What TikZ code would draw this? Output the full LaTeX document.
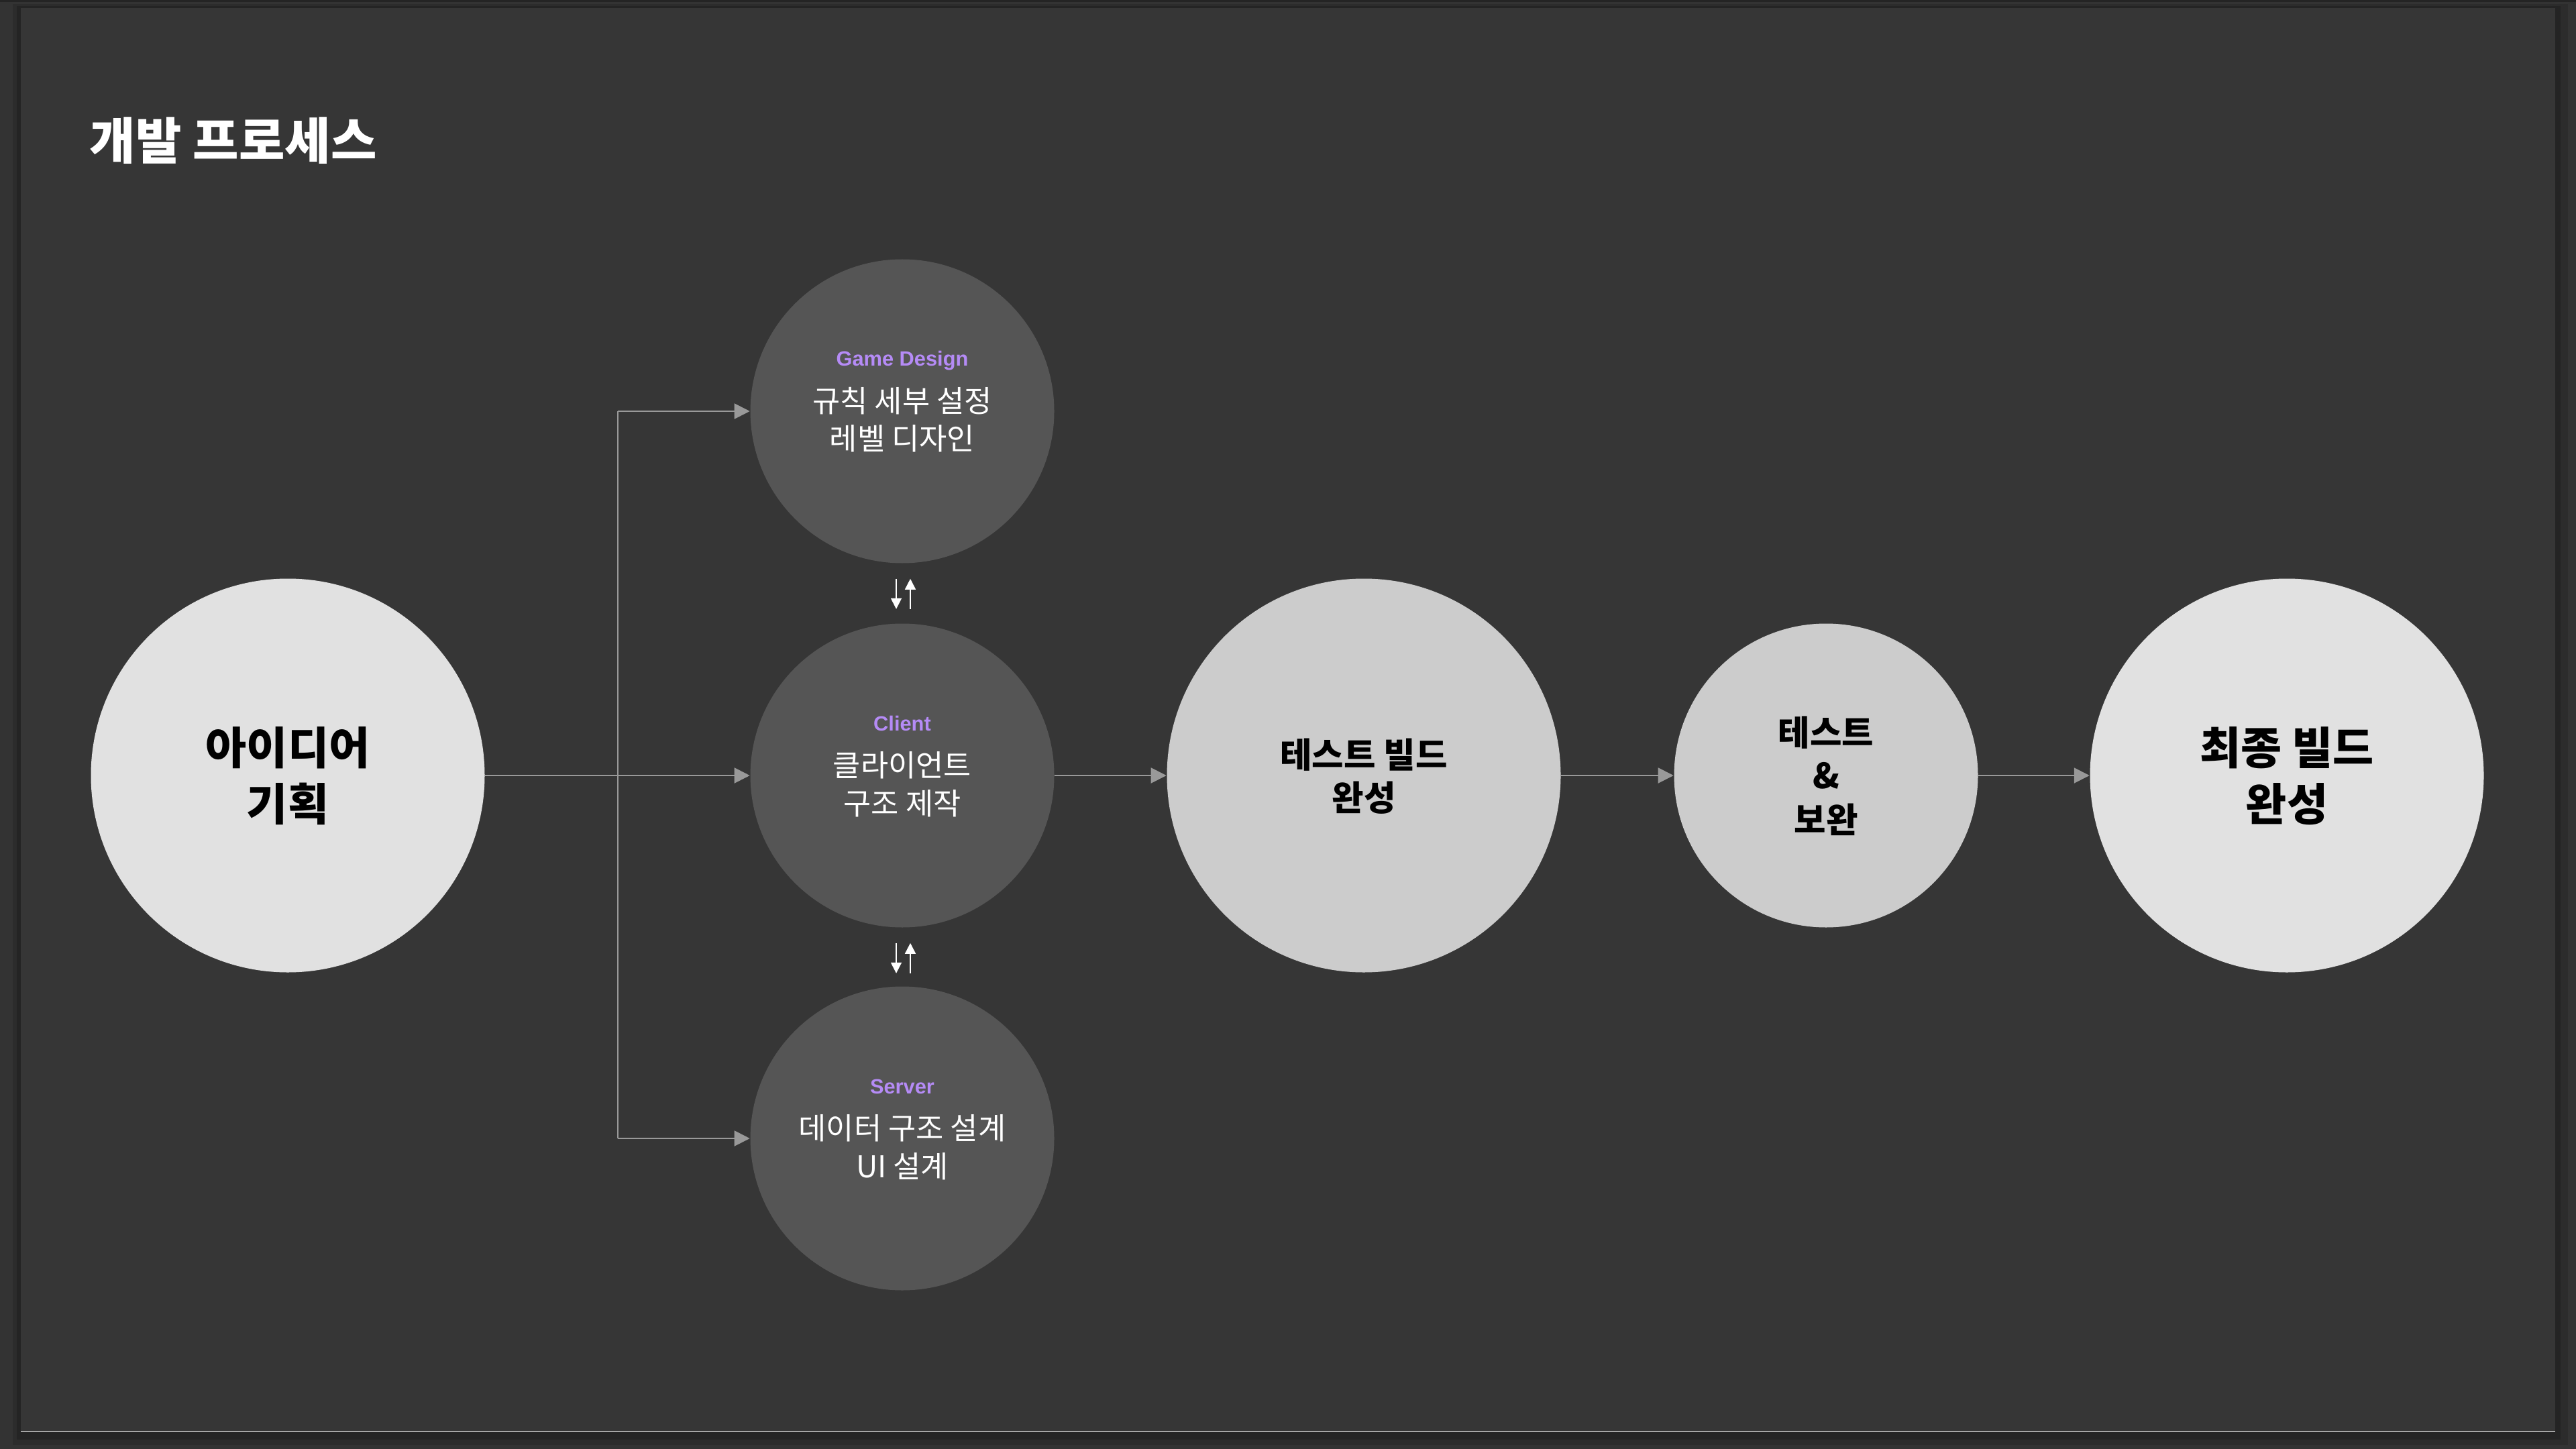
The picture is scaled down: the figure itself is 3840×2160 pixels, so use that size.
\documentclass[tikz,border=0pt]{standalone}
\usepackage{fontspec}
\usetikzlibrary{arrows.meta,calc}
\newfontfamily\kr{Noto Sans CJK KR}
\newfontfamily\lat{Liberation Sans}
\definecolor{outerbg}{HTML}{333333}
\definecolor{panelbg}{HTML}{363636}
\definecolor{shadowA}{HTML}{2C2C2C}
\definecolor{shadowB}{HTML}{242424}
\definecolor{lightA}{HTML}{E1E1E1}
\definecolor{lightB}{HTML}{CCCCCC}
\definecolor{darkc}{HTML}{555555}
\definecolor{conncol}{HTML}{999999}
\definecolor{purp}{RGB}{181,139,246}
\tikzset{
  bigc/.style={circle, inner sep=0pt, minimum size=146.75pt, draw=none},
  smc/.style={circle, inner sep=0pt, minimum size=113.25pt, draw=none},
  txt/.style={anchor=base, inner sep=0pt},
  smtxt/.style={txt, text=white, font=\kr\fontsize{11.2pt}{14pt}\selectfont},
  tagtxt/.style={txt, text=purp, font=\lat\bfseries\fontsize{7.7pt}{9pt}\selectfont},
  bigtxt/.style={txt, text=black, font=\kr\bfseries\fontsize{16.6pt}{21pt}\selectfont},
  midtxt/.style={txt, text=black, font=\kr\bfseries\fontsize{12.9pt}{16pt}\selectfont},
  conn/.style={draw=conncol, line width=0.5pt, -{Triangle[length=5.75pt,width=5.75pt]}},
  connline/.style={draw=conncol, line width=0.5pt},
  warrow/.style={draw=white, line width=0.42pt, -{Triangle[length=4pt,width=4pt]}}
}
\begin{document}
\begin{tikzpicture}[x=0.25pt,y=-0.25pt]
\useasboundingbox (0,0) rectangle (3840,2160);
% background and slide panel
\fill[outerbg] (0,0) rectangle (3840,2160);
\fill[black!30!outerbg] (0,0) rectangle (3840,3);
\fill[shadowA] (19,6) rectangle (3828,2154);
\fill[shadowB] (25,9) rectangle (3817,2146);
\fill[panelbg] (31,12) rectangle (3809,2133);
\draw[white, line width=0.4pt] (31,2133.5) -- (3809,2133.5);
% title
\node[txt, anchor=base west, text=white, font=\kr\bfseries\fontsize{18.6pt}{20pt}\selectfont] (title) at (133,238) {개발 프로세스};
% circles
\node[bigc, fill=lightA] (idea) at (429,1156) {};
\node[smc, fill=darkc] (gd) at (1345,613) {};
\node[smc, fill=darkc] (cl) at (1345,1156) {};
\node[smc, fill=darkc] (sv) at (1345,1697) {};
\node[bigc, fill=lightB] (tb) at (2033,1156) {};
\node[smc, fill=lightB] (tf) at (2722,1156) {};
\node[bigc, fill=lightA] (fb) at (3409,1156) {};
% connectors
\coordinate (jn) at (921,1156);
\coordinate (jt) at (921,613);
\coordinate (jb) at (921,1697);
\draw[conn] (idea) -- (cl);
\draw[connline] (jt) -- (jb);
\draw[conn] (jt) -- (gd);
\draw[conn] (jb) -- (sv);
\draw[conn] (cl) -- (tb);
\draw[conn] (tb) -- (tf);
\draw[conn] (tf) -- (fb);
% white two-way arrows
\coordinate (a1d) at ($(gd.south)+(-9,22.5)$);
\coordinate (a1e) at ($(gd.south)+(-9,67.5)$);
\coordinate (a1u) at ($(gd.south)+(12,67.5)$);
\coordinate (a1f) at ($(gd.south)+(12,22.5)$);
\draw[warrow] (a1d) -- (a1e);
\draw[warrow] (a1u) -- (a1f);
\coordinate (a2d) at ($(cl.south)+(-9,22.5)$);
\coordinate (a2e) at ($(cl.south)+(-9,67.5)$);
\coordinate (a2u) at ($(cl.south)+(12,67.5)$);
\coordinate (a2f) at ($(cl.south)+(12,22.5)$);
\draw[warrow] (a2d) -- (a2e);
\draw[warrow] (a2u) -- (a2f);
% texts in big circles
\node[bigtxt] (idea1) at ($(idea)+(0,-17)$) {아이디어};
\node[bigtxt] (idea2) at ($(idea)+(0,67)$) {기획};
\node[midtxt] (tb1) at ($(tb)+(0,-12)$) {테스트 빌드};
\node[midtxt] (tb2) at ($(tb)+(0,52)$) {완성};
\node[midtxt] (tf1) at ($(tf)+(0,-45)$) {테스트};
\node[midtxt] (tf2) at ($(tf)+(0,19)$) {\&};
\node[midtxt] (tf3) at ($(tf)+(0,85)$) {보완};
\node[bigtxt] (fb1) at ($(fb)+(0,-17)$) {최종 빌드};
\node[bigtxt] (fb2) at ($(fb)+(0,67)$) {완성};
% texts in small circles
\node[tagtxt] (gdt) at ($(gd)+(0,-67)$) {Game Design};
\node[smtxt] (gd1) at ($(gd)+(0,1)$) {규칙 세부 설정};
\node[smtxt] (gd2) at ($(gd)+(0,58)$) {레벨 디자인};
\node[tagtxt] (clt) at ($(cl)+(0,-67)$) {Client};
\node[smtxt] (cl1) at ($(cl)+(0,1)$) {클라이언트};
\node[smtxt] (cl2) at ($(cl)+(0,58)$) {구조 제작};
\node[tagtxt] (svt) at ($(sv)+(0,-67)$) {Server};
\node[smtxt] (sv1) at ($(sv)+(0,1)$) {데이터 구조 설계};
\node[smtxt] (sv2) at ($(sv)+(0,58)$) {UI 설계};
\end{tikzpicture}
\end{document}
